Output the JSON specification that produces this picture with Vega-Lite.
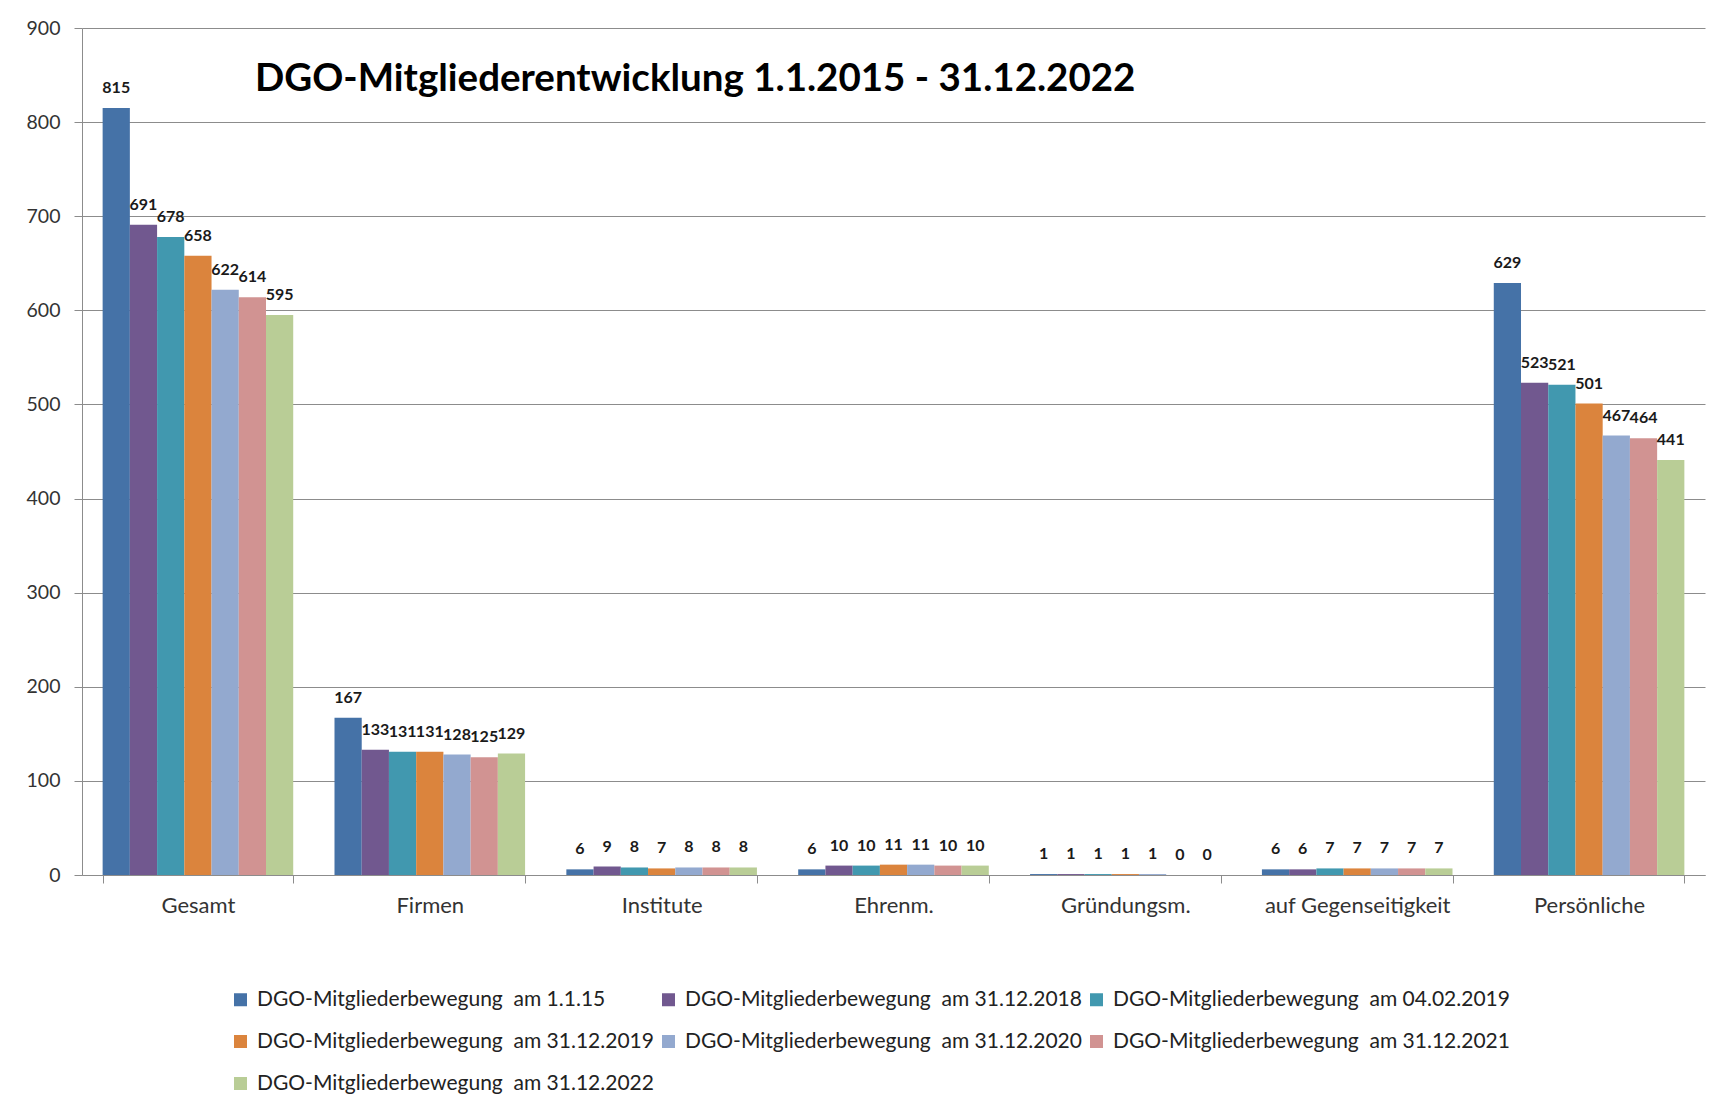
{
  "$schema": "https://vega.github.io/schema/vega-lite/v6.json",
  "width": 1623,
  "height": 847,
  "autosize": {"type": "none"},
  "padding": {"left": 82, "top": 28, "right": 13, "bottom": 233},
  "background": "white",
  "config": {"view": {"stroke": null}},
  "title": {
    "text": "DGO-Mitgliederentwicklung 1.1.2015 - 31.12.2022",
    "anchor": "start",
    "frame": "group",
    "dx": 173,
    "dy": 111,
    "offset": 0,
    "baseline": "alphabetic",
    "font": "Lato",
    "fontSize": 38.5,
    "fontWeight": "bold",
    "color": "#000000"
  },
  "data": {
    "values": [
      {"kategorie": "Gesamt", "serie": "DGO-Mitgliederbewegung  am 1.1.15", "wert": 815},
      {"kategorie": "Gesamt", "serie": "DGO-Mitgliederbewegung  am 31.12.2018", "wert": 691},
      {"kategorie": "Gesamt", "serie": "DGO-Mitgliederbewegung  am 04.02.2019", "wert": 678},
      {"kategorie": "Gesamt", "serie": "DGO-Mitgliederbewegung  am 31.12.2019", "wert": 658},
      {"kategorie": "Gesamt", "serie": "DGO-Mitgliederbewegung  am 31.12.2020", "wert": 622},
      {"kategorie": "Gesamt", "serie": "DGO-Mitgliederbewegung  am 31.12.2021", "wert": 614},
      {"kategorie": "Gesamt", "serie": "DGO-Mitgliederbewegung  am 31.12.2022", "wert": 595},
      {"kategorie": "Firmen", "serie": "DGO-Mitgliederbewegung  am 1.1.15", "wert": 167},
      {"kategorie": "Firmen", "serie": "DGO-Mitgliederbewegung  am 31.12.2018", "wert": 133},
      {"kategorie": "Firmen", "serie": "DGO-Mitgliederbewegung  am 04.02.2019", "wert": 131},
      {"kategorie": "Firmen", "serie": "DGO-Mitgliederbewegung  am 31.12.2019", "wert": 131},
      {"kategorie": "Firmen", "serie": "DGO-Mitgliederbewegung  am 31.12.2020", "wert": 128},
      {"kategorie": "Firmen", "serie": "DGO-Mitgliederbewegung  am 31.12.2021", "wert": 125},
      {"kategorie": "Firmen", "serie": "DGO-Mitgliederbewegung  am 31.12.2022", "wert": 129},
      {"kategorie": "Institute", "serie": "DGO-Mitgliederbewegung  am 1.1.15", "wert": 6},
      {"kategorie": "Institute", "serie": "DGO-Mitgliederbewegung  am 31.12.2018", "wert": 9},
      {"kategorie": "Institute", "serie": "DGO-Mitgliederbewegung  am 04.02.2019", "wert": 8},
      {"kategorie": "Institute", "serie": "DGO-Mitgliederbewegung  am 31.12.2019", "wert": 7},
      {"kategorie": "Institute", "serie": "DGO-Mitgliederbewegung  am 31.12.2020", "wert": 8},
      {"kategorie": "Institute", "serie": "DGO-Mitgliederbewegung  am 31.12.2021", "wert": 8},
      {"kategorie": "Institute", "serie": "DGO-Mitgliederbewegung  am 31.12.2022", "wert": 8},
      {"kategorie": "Ehrenm.", "serie": "DGO-Mitgliederbewegung  am 1.1.15", "wert": 6},
      {"kategorie": "Ehrenm.", "serie": "DGO-Mitgliederbewegung  am 31.12.2018", "wert": 10},
      {"kategorie": "Ehrenm.", "serie": "DGO-Mitgliederbewegung  am 04.02.2019", "wert": 10},
      {"kategorie": "Ehrenm.", "serie": "DGO-Mitgliederbewegung  am 31.12.2019", "wert": 11},
      {"kategorie": "Ehrenm.", "serie": "DGO-Mitgliederbewegung  am 31.12.2020", "wert": 11},
      {"kategorie": "Ehrenm.", "serie": "DGO-Mitgliederbewegung  am 31.12.2021", "wert": 10},
      {"kategorie": "Ehrenm.", "serie": "DGO-Mitgliederbewegung  am 31.12.2022", "wert": 10},
      {"kategorie": "Gründungsm.", "serie": "DGO-Mitgliederbewegung  am 1.1.15", "wert": 1},
      {"kategorie": "Gründungsm.", "serie": "DGO-Mitgliederbewegung  am 31.12.2018", "wert": 1},
      {"kategorie": "Gründungsm.", "serie": "DGO-Mitgliederbewegung  am 04.02.2019", "wert": 1},
      {"kategorie": "Gründungsm.", "serie": "DGO-Mitgliederbewegung  am 31.12.2019", "wert": 1},
      {"kategorie": "Gründungsm.", "serie": "DGO-Mitgliederbewegung  am 31.12.2020", "wert": 1},
      {"kategorie": "Gründungsm.", "serie": "DGO-Mitgliederbewegung  am 31.12.2021", "wert": 0},
      {"kategorie": "Gründungsm.", "serie": "DGO-Mitgliederbewegung  am 31.12.2022", "wert": 0},
      {"kategorie": "auf Gegenseitigkeit", "serie": "DGO-Mitgliederbewegung  am 1.1.15", "wert": 6},
      {"kategorie": "auf Gegenseitigkeit", "serie": "DGO-Mitgliederbewegung  am 31.12.2018", "wert": 6},
      {"kategorie": "auf Gegenseitigkeit", "serie": "DGO-Mitgliederbewegung  am 04.02.2019", "wert": 7},
      {"kategorie": "auf Gegenseitigkeit", "serie": "DGO-Mitgliederbewegung  am 31.12.2019", "wert": 7},
      {"kategorie": "auf Gegenseitigkeit", "serie": "DGO-Mitgliederbewegung  am 31.12.2020", "wert": 7},
      {"kategorie": "auf Gegenseitigkeit", "serie": "DGO-Mitgliederbewegung  am 31.12.2021", "wert": 7},
      {"kategorie": "auf Gegenseitigkeit", "serie": "DGO-Mitgliederbewegung  am 31.12.2022", "wert": 7},
      {"kategorie": "Persönliche", "serie": "DGO-Mitgliederbewegung  am 1.1.15", "wert": 629},
      {"kategorie": "Persönliche", "serie": "DGO-Mitgliederbewegung  am 31.12.2018", "wert": 523},
      {"kategorie": "Persönliche", "serie": "DGO-Mitgliederbewegung  am 04.02.2019", "wert": 521},
      {"kategorie": "Persönliche", "serie": "DGO-Mitgliederbewegung  am 31.12.2019", "wert": 501},
      {"kategorie": "Persönliche", "serie": "DGO-Mitgliederbewegung  am 31.12.2020", "wert": 467},
      {"kategorie": "Persönliche", "serie": "DGO-Mitgliederbewegung  am 31.12.2021", "wert": 464},
      {"kategorie": "Persönliche", "serie": "DGO-Mitgliederbewegung  am 31.12.2022", "wert": 441}
    ]
  },
  "encoding": {
    "x": {
      "field": "kategorie",
      "type": "nominal",
      "sort": ["Gesamt", "Firmen", "Institute", "Ehrenm.", "Gründungsm.", "auf Gegenseitigkeit", "Persönliche"],
      "scale": {"paddingInner": 0.178, "paddingOuter": 0.089},
      "axis": {
        "title": null,
        "labelAngle": 0,
        "tickBand": "extent",
        "ticks": true,
        "tickSize": 8,
        "tickColor": "#8c8c8c",
        "domainColor": "#8c8c8c",
        "labelPadding": 12,
        "labelFont": "Lato",
        "labelFontSize": 22,
        "labelColor": "#333333",
        "labelLimit": 400
      }
    },
    "xOffset": {
      "field": "serie",
      "type": "nominal",
      "sort": [
        "DGO-Mitgliederbewegung  am 1.1.15",
        "DGO-Mitgliederbewegung  am 31.12.2018",
        "DGO-Mitgliederbewegung  am 04.02.2019",
        "DGO-Mitgliederbewegung  am 31.12.2019",
        "DGO-Mitgliederbewegung  am 31.12.2020",
        "DGO-Mitgliederbewegung  am 31.12.2021",
        "DGO-Mitgliederbewegung  am 31.12.2022"
      ]
    },
    "y": {
      "field": "wert",
      "type": "quantitative",
      "scale": {"domain": [0, 900]},
      "axis": {
        "title": null,
        "values": [0, 100, 200, 300, 400, 500, 600, 700, 800, 900],
        "grid": true,
        "gridColor": "#8c8c8c",
        "domainColor": "#8c8c8c",
        "tickColor": "#8c8c8c",
        "tickSize": 8,
        "labelPadding": 14,
        "labelFont": "Lato",
        "labelFontSize": 19.5,
        "labelColor": "#333333"
      }
    }
  },
  "layer": [
    {
      "mark": {"type": "bar"},
      "encoding": {
        "color": {
          "field": "serie",
          "type": "nominal",
          "scale": {
            "domain": [
              "DGO-Mitgliederbewegung  am 1.1.15",
              "DGO-Mitgliederbewegung  am 31.12.2018",
              "DGO-Mitgliederbewegung  am 04.02.2019",
              "DGO-Mitgliederbewegung  am 31.12.2019",
              "DGO-Mitgliederbewegung  am 31.12.2020",
              "DGO-Mitgliederbewegung  am 31.12.2021",
              "DGO-Mitgliederbewegung  am 31.12.2022"
            ],
            "range": ["#4572A7", "#71588F", "#4198AF", "#DB843D", "#93A9CF", "#D19392", "#B9CD96"]
          },
          "legend": {
            "orient": "none",
            "legendX": 148,
            "legendY": 961,
            "columns": 3,
            "direction": "horizontal",
            "title": null,
            "labelExpr": "replace(datum.label, '  ', '\u00a0 ')",
            "symbolType": "square",
            "symbolSize": 169,
            "symbolStrokeWidth": 0,
            "symbolOpacity": 1,
            "symbolOffset": 0,
            "labelOffset": 6,
            "labelFont": "Lato",
            "labelFontSize": 21,
            "labelColor": "#222222",
            "labelLimit": 600,
            "columnPadding": 4,
            "rowPadding": 20
          }
        }
      }
    },
    {
      "mark": {"type": "text", "baseline": "middle", "dy": -20, "font": "Lato", "fontSize": 16, "fontWeight": "bold", "color": "#1a1a1a"},
      "encoding": {
        "text": {"field": "wert", "type": "quantitative"}
      }
    }
  ]
}
